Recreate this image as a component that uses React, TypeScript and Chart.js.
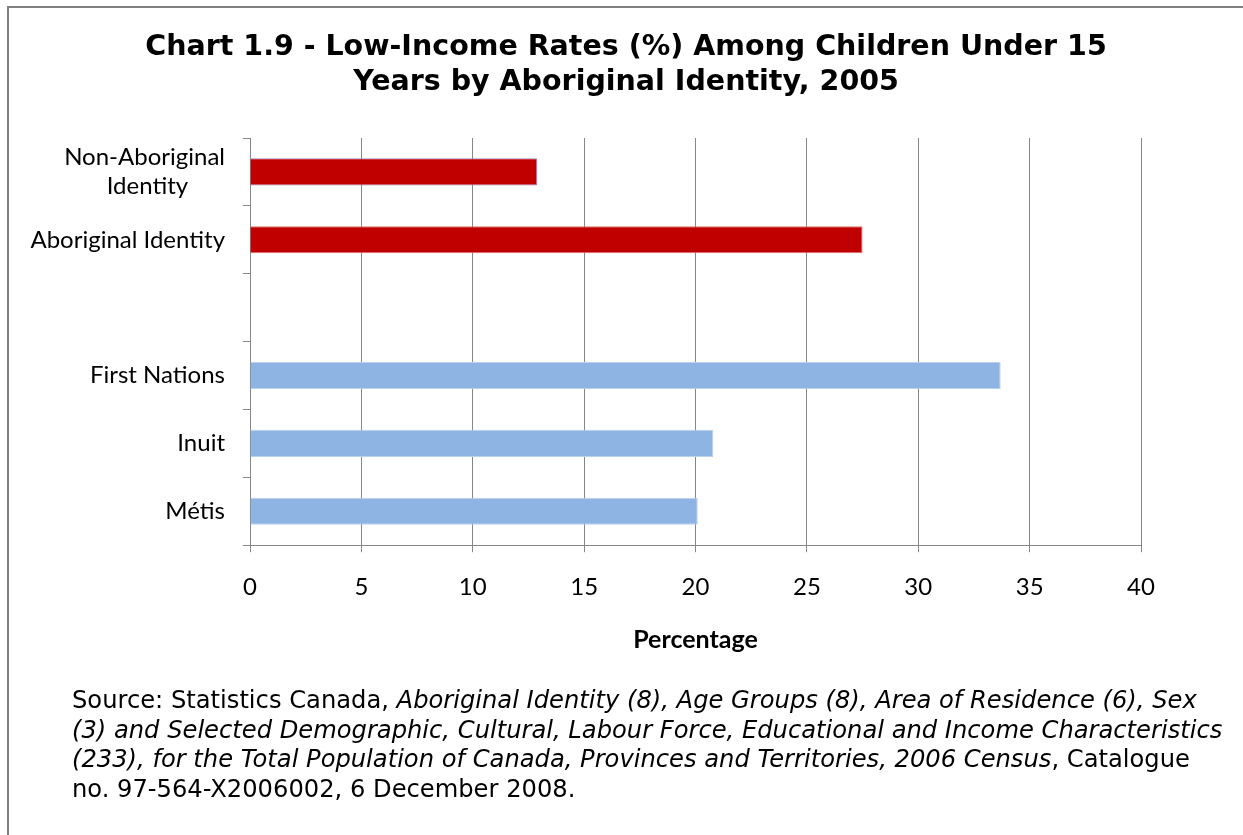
import React, { useEffect, useRef } from 'react';
import { Chart, registerables } from 'chart.js';

Chart.register(...registerables);

const categories: (string | string[])[] = [
  ['Non-Aboriginal', 'Identity      '],
  'Aboriginal Identity',
  '',
  'First Nations',
  'Inuit',
  'Métis',
];
const values: (number | null)[] = [12.9, 27.5, null, 33.7, 20.8, 20.1];
const xMin = 0;
const xMax = 40;
const xStep = 5;
const titleLines = [
  'Chart 1.9 - Low-Income Rates (%) Among Children Under 15',
  'Years by Aboriginal Identity, 2005',
];
const xAxisTitle = 'Percentage';

const barColors = ['#C00000', '#C00000', '#C00000', '#8EB4E3', '#8EB4E3', '#8EB4E3'];
const barBorders = ['#A08CC8', '#E07070', '#E07070', '#B9D0EE', '#B9D0EE', '#B9D0EE'];

const GRID = '#868686';
const LABEL_FONT = 'Lato';

export default function App() {
  const ref = useRef<HTMLCanvasElement | null>(null);

  useEffect(() => {
    if (!ref.current) return;
    const chart = new Chart(ref.current, {
      type: 'bar',
      data: {
        labels: categories as any,
        datasets: [
          {
            data: values as any,
            backgroundColor: barColors,
            borderColor: barBorders,
            borderWidth: 1,
            categoryPercentage: 1,
            barPercentage: 0.4,
          },
        ],
      },
      options: {
        indexAxis: 'y',
        responsive: false,
        animation: false,
        layout: { padding: { left: 16, right: 102, top: 130, bottom: 180 } },
        plugins: {
          legend: { display: false },
          tooltip: { enabled: false },
          title: { display: false },
        },
        scales: {
          x: {
            type: 'linear',
            min: xMin,
            max: xMax,
            ticks: {
              stepSize: xStep,
              color: '#000',
              padding: 21,
              font: { family: LABEL_FONT, size: 24 },
            },
            grid: { color: GRID, tickLength: 7, drawTicks: true },
            border: { display: true, color: GRID },
            title: {
              display: true,
              text: xAxisTitle,
              color: '#000',
              font: { family: LABEL_FONT, size: 25, weight: 'bold', lineHeight: 1.2 },
              padding: { top: 2, bottom: 0 },
            },
          },
          y: {
            type: 'category',
            offset: true,
            afterFit: (s: any) => {
              s.width = 225;
            },
            ticks: {
              color: '#000',
              crossAlign: 'near',
              padding: 18,
              font: { family: LABEL_FONT, size: 24, lineHeight: 1.2 },
            },
            grid: { offset: true, drawOnChartArea: false, drawTicks: true, tickLength: 7, color: GRID },
            border: { display: true, color: GRID },
          },
        },
      },
    } as any);
    return () => chart.destroy();
  }, []);

  return (
    <div
      style={{
        position: 'absolute',
        left: 7,
        top: 6,
        width: 1236,
        height: 829,
        boxSizing: 'border-box',
        borderLeft: '2px solid #808080',
        borderTop: '2px solid #808080',
        background: '#fff',
      }}
    >
      <canvas ref={ref} width={1234} height={827} style={{ position: 'absolute', left: 0, top: 0 }} />
      <div
        style={{
          position: 'absolute',
          left: 0,
          top: 20,
          width: 1234,
          textAlign: 'center',
          fontFamily: 'DejaVu Sans',
          fontWeight: 'bold',
          fontSize: 28.5,
          lineHeight: '35px',
          color: '#000',
        }}
      >
        {titleLines[0]}
        <br />
        {titleLines[1]}
      </div>
      <div
        style={{
          position: 'absolute',
          left: 63,
          top: 678,
          width: 1170,
          fontFamily: 'DejaVu Sans',
          fontSize: 24.2,
          lineHeight: '29.7px',
          color: '#000',
          whiteSpace: 'nowrap',
        }}
      >
        Source: Statistics Canada, <i>Aboriginal Identity (8), Age Groups (8), Area of Residence (6), Sex</i>
        <br />
        <i>(3) and Selected Demographic, Cultural, Labour Force, Educational and Income Characteristics</i>
        <br />
        <i>(233), for the Total Population of Canada, Provinces and Territories, 2006 Census</i>, Catalogue
        <br />
        no. 97-564-X2006002, 6 December 2008.
      </div>
    </div>
  );
}
